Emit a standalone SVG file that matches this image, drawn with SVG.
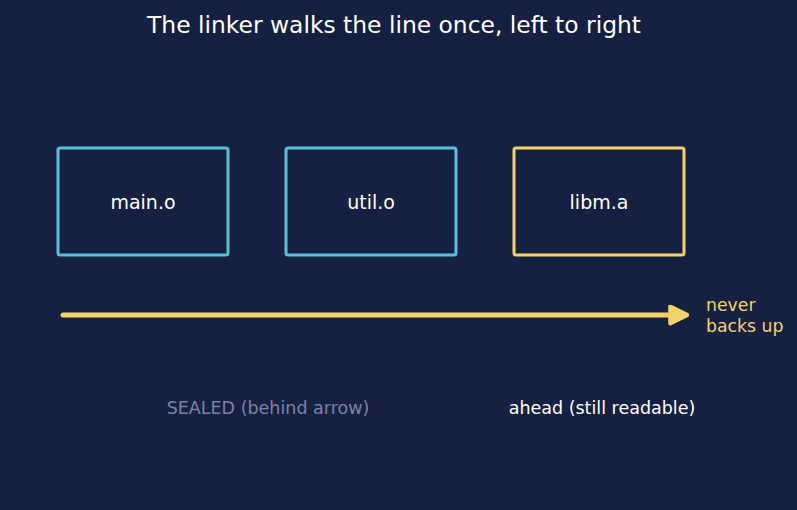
<svg xmlns="http://www.w3.org/2000/svg" width="797" height="510" viewBox="0 0 797 510">
<defs>
<style>
text{font-family:"DejaVu Sans",sans-serif;}
.box{fill:#162040;stroke-width:3;}
.obj{stroke:#5bbfdc;}
.lib{stroke:#f2d36b;}
.lbl{fill:#ffffff;font-size:19px;text-anchor:middle;}
</style>
<marker id="ah" viewBox="0 0 10 10" refX="8" refY="5" markerWidth="4.2" markerHeight="4.2" orient="auto" markerUnits="strokeWidth">
<path d="M1,1 L9,5 L1,9 z" fill="#f2d36b" stroke="#f2d36b" stroke-width="2" stroke-linejoin="round"/>
</marker>
</defs>
<rect width="797" height="510" fill="#162040"/>
<text x="394" y="33" fill="#ffffff" font-size="23.4" text-anchor="middle">The linker walks the line once, left to right</text>
<g id="main_o"><rect class="box obj" x="58" y="148" width="170" height="107" rx="2"/><text class="lbl" x="143" y="209">main.o</text></g>
<g id="util_o"><rect class="box obj" x="286" y="148" width="170" height="107" rx="2"/><text class="lbl" x="371" y="209">util.o</text></g>
<g id="libm_a"><rect class="box lib" x="514" y="148" width="170" height="107" rx="2"/><text class="lbl" x="599" y="209">libm.a</text></g>
<g id="connectors">
<line x1="63" y1="315" x2="685" y2="315" stroke="#f2d36b" stroke-width="5" stroke-linecap="round" marker-end="url(#ah)"/>
</g>
<text x="706" y="311" fill="#f2d36b" font-size="17.3">never</text>
<text x="706" y="332" fill="#f2d36b" font-size="17.3">backs up</text>
<text x="268" y="414" fill="#7a84a6" font-size="17.5" text-anchor="middle">SEALED (behind arrow)</text>
<text x="602" y="414" fill="#ffffff" font-size="17.5" text-anchor="middle">ahead (still readable)</text>
</svg>
